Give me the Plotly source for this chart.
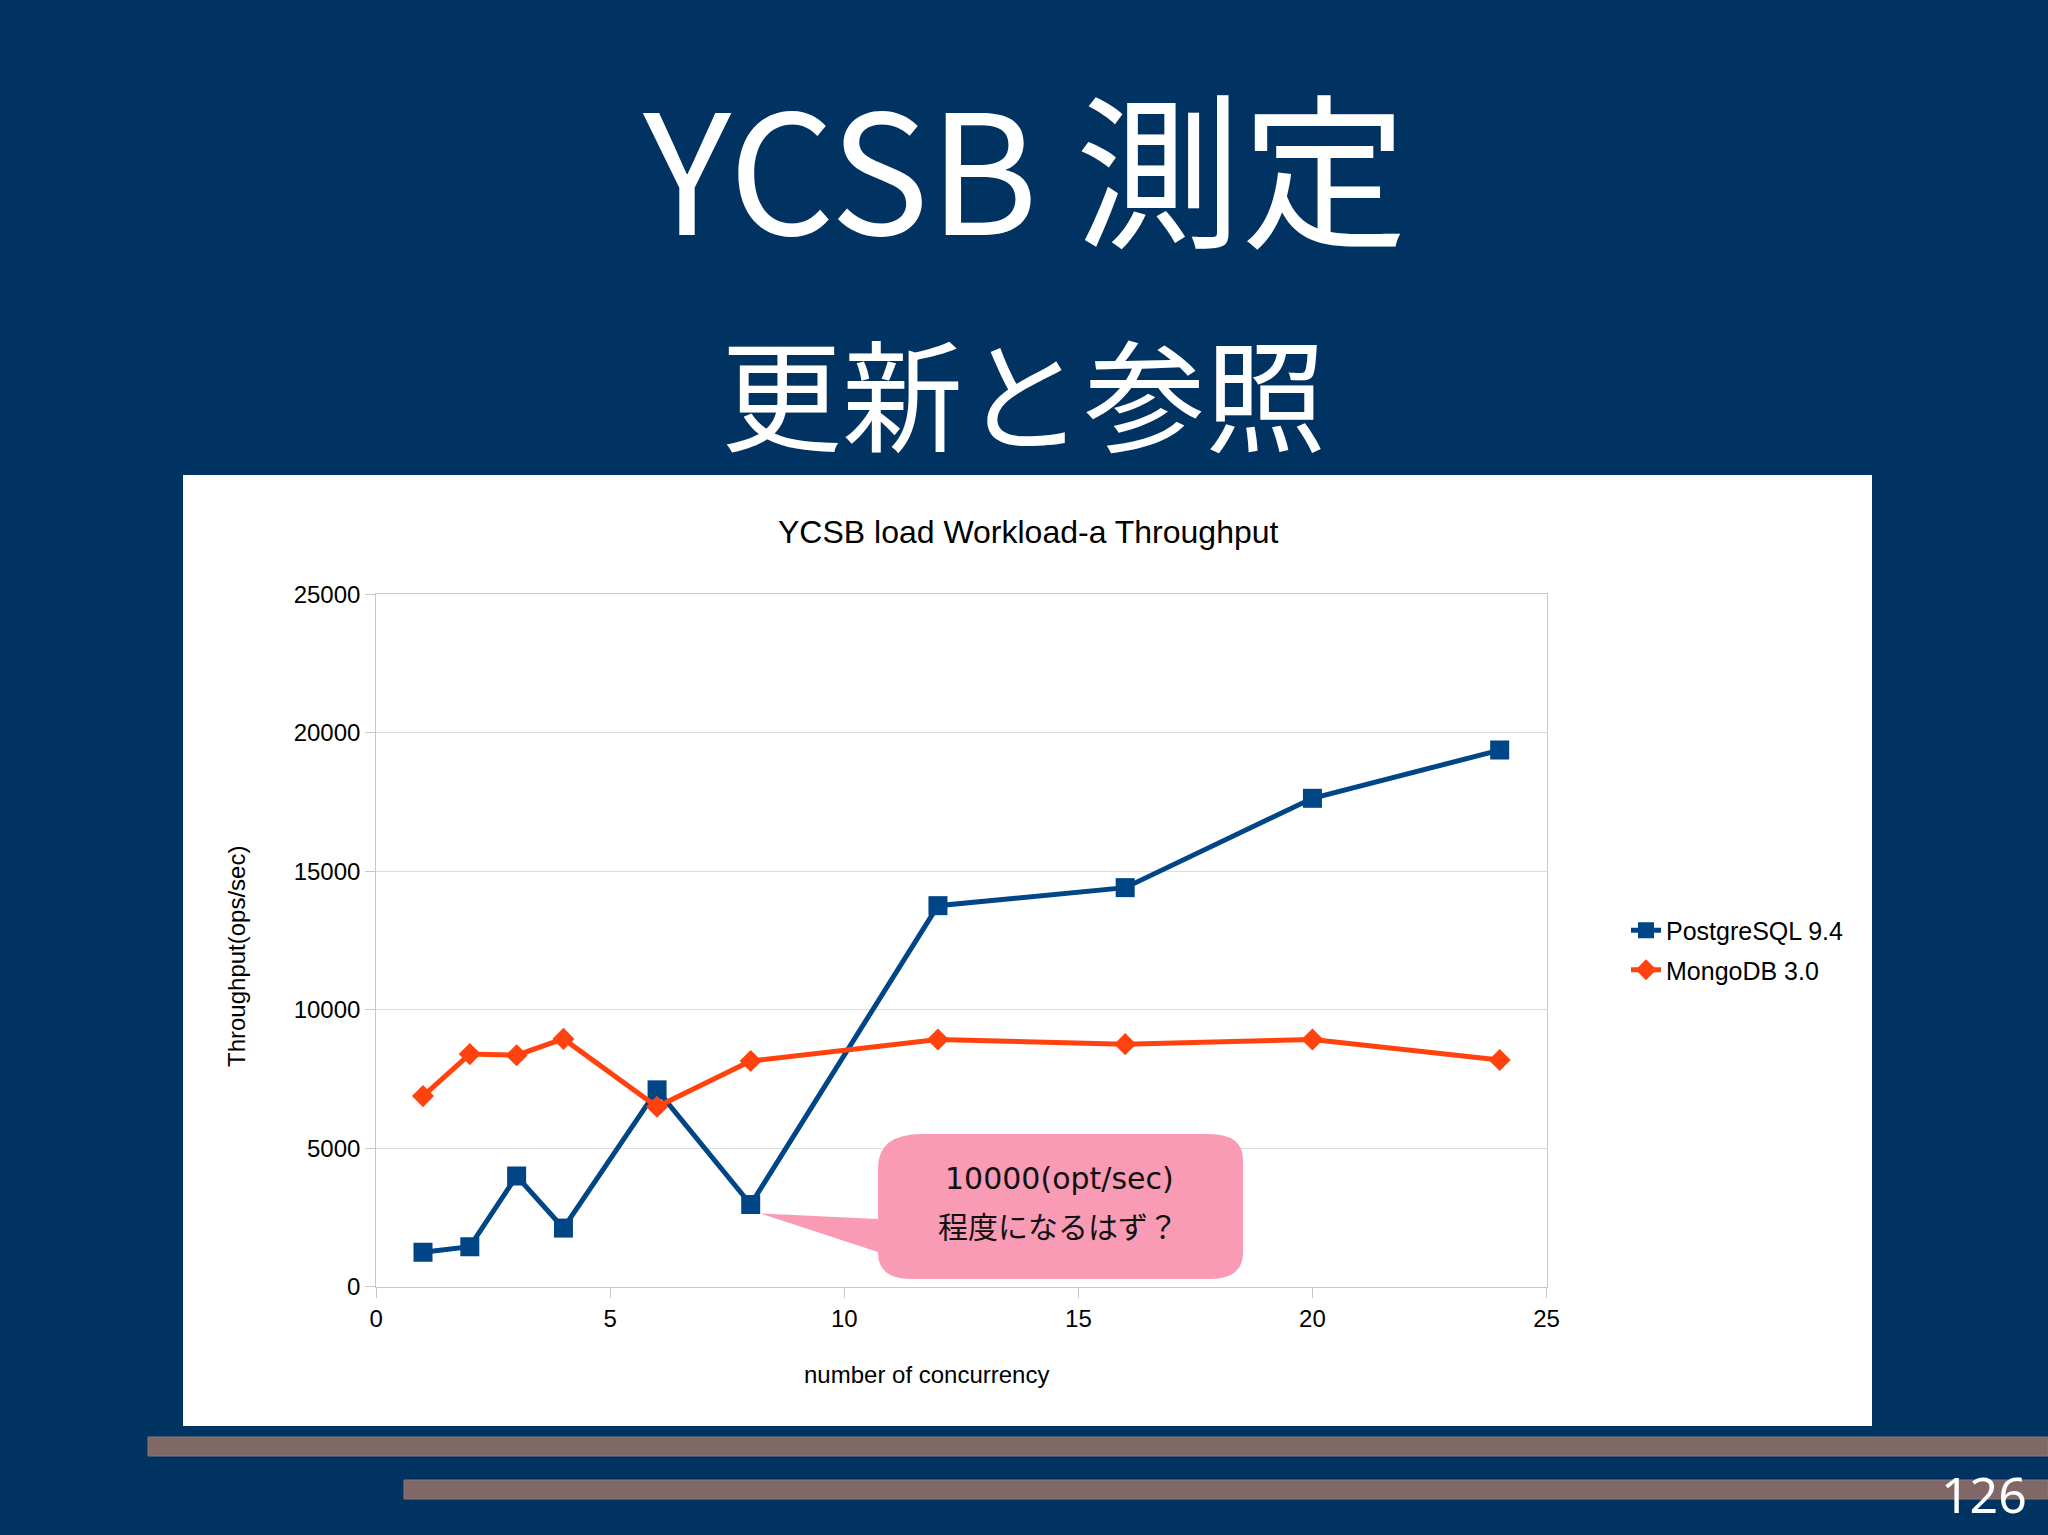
import plotly.graph_objects as go

# ---------------- data ----------------
concurrency = [1, 2, 3, 4, 6, 8, 12, 16, 20, 24]
postgres = [1250, 1450, 4000, 2120, 7110, 2970, 13760, 14410, 17635, 19375]
mongo = [6885, 8400, 8360, 8950, 6500, 8150, 8930, 8760, 8930, 8190]
series_names = ["PostgreSQL 9.4", "MongoDB 3.0"]
x_ticks = [0, 5, 10, 15, 20, 25]
y_ticks = [0, 5000, 10000, 15000, 20000, 25000]
y_tick_text = ["0", "5000", "10000", "15000", "20000", "25000"]

W, H = 2048, 1535
NAVY = "#003262"
BROWN = "#806866"
PG_COLOR = "#004586"
MG_COLOR = "#ff420e"


def fx(x):
    return x / W


def fy(y):
    return 1 - y / H


# plot area in pixels
PX0, PX1 = 376.2, 1546.5
PY_TOP, PY_BOT = 594.3, 1286.8

fig = go.Figure()
fig.add_trace(go.Scatter(
    x=concurrency, y=postgres, name=series_names[0], mode="lines+markers",
    line=dict(color=PG_COLOR, width=5),
    marker=dict(symbol="square", size=19, color=PG_COLOR),
    legendgroup="a",
))
fig.add_trace(go.Scatter(
    x=concurrency, y=mongo, name=series_names[1], mode="lines+markers",
    line=dict(color=MG_COLOR, width=5),
    marker=dict(symbol="diamond", size=17, color=MG_COLOR),
    legendgroup="b",
))

shapes = []
# white chart panel
shapes.append(dict(type="rect", xref="paper", yref="paper", layer="below",
                   x0=fx(183), x1=fx(1872), y0=fy(1426), y1=fy(475),
                   fillcolor="white", line=dict(width=0)))
# brown decorative bars
shapes.append(dict(type="rect", xref="paper", yref="paper", layer="below",
                   x0=fx(148), x1=fx(2048), y0=fy(1456), y1=fy(1437),
                   fillcolor=BROWN, line=dict(width=1, color="#8a7a7c")))
shapes.append(dict(type="rect", xref="paper", yref="paper", layer="below",
                   x0=fx(404), x1=fx(2048), y0=fy(1499), y1=fy(1480),
                   fillcolor=BROWN, line=dict(width=1, color="#8a7a7c")))

# callout bubble pointing at the PostgreSQL value at 8 threads
i8 = concurrency.index(8)
tip_x = PX0 + concurrency[i8] / 25 * (PX1 - PX0) + 10
tip_y = PY_BOT - postgres[i8] / 25000 * (PY_BOT - PY_TOP) + 9
L, R, T, B = 878, 1243, 1134, 1279
rx, ry = 34, 26


def P(x, y):
    return f"{fx(x):.5f},{fy(y):.5f}"


path = (
    f"M{P(L + rx + 10, T)} L{P(R - rx, T)} Q{P(R, T)} {P(R, T + ry)} "
    f"L{P(R, B - ry)} Q{P(R, B)} {P(R - rx, B)} L{P(L + rx, B)} "
    f"Q{P(L, B)} {P(L, B - ry)} L{P(L, 1252)} L{P(tip_x, tip_y)} "
    f"L{P(L, 1219)} L{P(L, T + ry + 8)} Q{P(L, T)} {P(L + rx + 10, T)} Z"
)
shapes.append(dict(type="path", xref="paper", yref="paper", layer="above",
                   path=path, fillcolor="#fa9bb5", line=dict(width=0)))

annotations = []
annotations.append(dict(text="YCSB 測定", x=fx(1024), y=fy(162), xref="paper", yref="paper",
                        showarrow=False, xanchor="center", yanchor="middle",
                        font=dict(family="Noto Sans CJK JP", size=166, color="white")))
annotations.append(dict(text="更新と参照", x=fx(1023), y=fy(389), xref="paper", yref="paper",
                        showarrow=False, xanchor="center", yanchor="middle",
                        font=dict(family="Noto Sans CJK JP", size=121, color="white")))
annotations.append(dict(text="YCSB load Workload-a Throughput", x=fx(1028), y=fy(532),
                        xref="paper", yref="paper", showarrow=False,
                        xanchor="center", yanchor="middle",
                        font=dict(family="Liberation Sans", size=32, color="black")))
annotations.append(dict(text="Throughput(ops/sec)", x=fx(236), y=fy(957),
                        xref="paper", yref="paper", showarrow=False, textangle=-90,
                        xanchor="center", yanchor="middle",
                        font=dict(family="Liberation Sans", size=24, color="black")))
annotations.append(dict(text="number of concurrency", x=fx(926), y=fy(1374),
                        xref="paper", yref="paper", showarrow=False,
                        xanchor="center", yanchor="middle",
                        font=dict(family="Liberation Sans", size=24, color="black")))
annotations.append(dict(text="10000(opt/sec)", x=fx(1059), y=fy(1178),
                        xref="paper", yref="paper", showarrow=False,
                        xanchor="center", yanchor="middle",
                        font=dict(family="DejaVu Sans", size=30, color="#111111")))
annotations.append(dict(text="程度になるはず？", x=fx(1058), y=fy(1225),
                        xref="paper", yref="paper", showarrow=False,
                        xanchor="center", yanchor="middle",
                        font=dict(family="Noto Sans CJK JP", size=30, color="#111111")))
annotations.append(dict(text="126", x=fx(1984), y=fy(1494), xref="paper", yref="paper",
                        showarrow=False, xanchor="center", yanchor="middle",
                        font=dict(family="Noto Sans", size=50, color="white")))

fig.update_layout(
    width=W, height=H,
    autosize=False,
    margin=dict(l=0, r=0, t=0, b=0, pad=0, autoexpand=False),
    paper_bgcolor=NAVY,
    plot_bgcolor="white",
    shapes=shapes,
    annotations=annotations,
    showlegend=True,
    legend=dict(x=fx(1626), y=fy(950), xanchor="left", yanchor="middle",
                bgcolor="rgba(0,0,0,0)", traceorder="grouped", tracegroupgap=4,
                font=dict(family="Liberation Sans", size=25, color="black")),
    xaxis=dict(domain=[fx(PX0), fx(PX1)], range=[0, 25], tickvals=x_ticks,
               ticktext=[str(v) for v in x_ticks], automargin=False,
               showgrid=False, zeroline=False, showline=True, mirror=True,
               linecolor="#c8c8c8", linewidth=1, ticks="outside", ticklen=10,
               tickcolor="#c8c8c8",
               tickfont=dict(family="Liberation Sans", size=24, color="black")),
    yaxis=dict(domain=[fy(PY_BOT), fy(PY_TOP)], range=[0, 25000], tickvals=y_ticks,
               ticktext=y_tick_text, automargin=False,
               showgrid=True, gridcolor="#dcdcdc", gridwidth=1, zeroline=False,
               showline=True, mirror=True, linecolor="#c8c8c8", linewidth=1,
               ticks="outside", ticklen=10, tickcolor="#c8c8c8",
               tickfont=dict(family="Liberation Sans", size=24, color="black")),
)

fig.write_html("out.html", config={"displayModeBar": False},
               post_script="document.body.style.margin='0';document.body.style.padding='0';document.body.style.overflow='hidden';")
